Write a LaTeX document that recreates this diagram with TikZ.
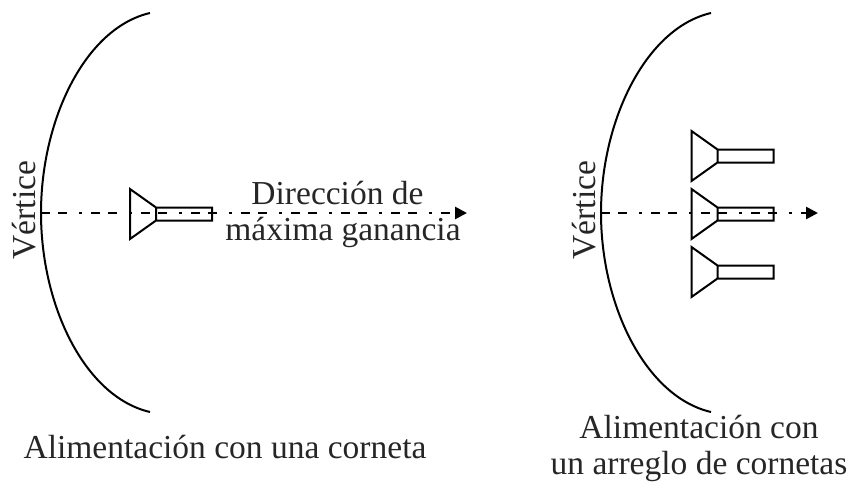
\documentclass[tikz,border=0pt]{standalone}
\usepackage{fontspec}
\setmainfont{Liberation Serif}
\usetikzlibrary{arrows.meta, positioning}

\begin{document}
\begin{tikzpicture}[
    x=1pt, y=-1pt,
    label/.style={inner sep=0pt, align=center, text=black!85, font=\fontsize{33.5}{36}\selectfont},
    dish/.style={line width=2pt},
    axis/.style={line width=2.6pt, dash pattern=on 9pt off 8pt on 9pt off 12pt on 3pt off 9pt, -{Triangle[length=12pt, width=12pt]}},
    horn/.pic={\draw[line width=2pt, line join=miter] (0,-25) -- (26,-6.5) -- (26,6.5) -- (0,25) -- cycle (26,-6.5) rectangle (82,6.5);}
]
\useasboundingbox (0,0) rectangle (853,484);

% Left reflector
\draw[dish] (150,13) .. controls (85,28) and (41,120) .. (41,213) .. controls (41,306) and (85,397) .. (150,412);
\coordinate (vertexa) at (41,213);
\coordinate (tipa) at (467,213);
\pic at (130,214) {horn};
\draw[axis] (vertexa) -- (tipa);

% Right reflector
\draw[dish] (711,13) .. controls (646,28) and (601,120) .. (601,213) .. controls (601,306) and (646,397) .. (711,412);
\coordinate (vertexb) at (601,213);
\coordinate (tipb) at (818,213);
\pic at (691.5,156) {horn};
\pic at (691.5,214) {horn};
\pic at (691.5,272) {horn};
\draw[axis] (vertexb) -- (tipb);

% Labels
\node[label, rotate=90] (verta) at (24,210) {Vértice};
\node[label, rotate=90] (vertb) at (584,210) {Vértice};
\node[label] (dir) at (343,214) {\hspace*{-11pt}Dirección de\\máxima ganancia};
\node[label] (capa) at (225,447) {Alimentación con una corneta};
\node[label] (capb) at (699,448) {Alimentación con\\un arreglo de cornetas};

\end{tikzpicture}
\end{document}
